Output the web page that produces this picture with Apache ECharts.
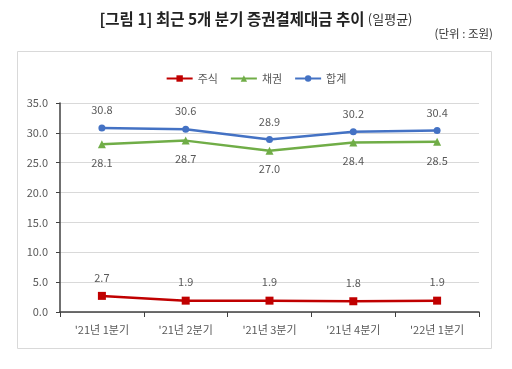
<!DOCTYPE html>
<html><head><meta charset="utf-8">
<script src="https://cdn.jsdelivr.net/npm/echarts@6/dist/echarts.min.js"></script>
<style>html,body{margin:0;padding:0;background:#fff}#c{width:512px;height:369px}</style>
</head><body><div id="c"></div>
<script>
const categories = ["'21년 1분기", "'21년 2분기", "'21년 3분기", "'21년 4분기", "'22년 1분기"];
const stocks = [2.7, 1.9, 1.9, 1.8, 1.9];
const bonds = [28.1, 28.7, 27.0, 28.4, 28.5];
const totals = [30.8, 30.6, 28.9, 30.2, 30.4];
const yTicks = { min: 0, max: 35, interval: 5 };

const font = '"Noto Sans CJK KR", "Noto Sans", sans-serif';
const chart = echarts.init(document.getElementById('c'), null, { renderer: 'canvas' });
const lbl = (pos) => ({ show: true, position: pos, distance: 9, color: '#595959', fontSize: 11, fontFamily: font, formatter: p => p.value.toFixed(1) });
chart.setOption({
  animation: false,
  graphic: [
    { type: 'rect', shape: { x: 17.5, y: 51.5, width: 474, height: 297 }, style: { fill: 'none', stroke: '#d9d9d9', lineWidth: 1 } },
    { type: 'text', left: 'center', top: 11, style: { rich: { a: { fontSize: 15.5, fontWeight: 'bold', fontFamily: font, fill: '#222' }, b: { fontSize: 13, fontFamily: font, fill: '#333' } }, text: '{a|[그림 1] 최근 5개 분기 증권결제대금 추이} {b|(일평균)}' } },
    { type: 'text', right: 19, top: 28, style: { text: '(단위 : 조원)', fontSize: 11.5, fontFamily: font, fill: '#333' } }
  ],
  legend: {
    top: 68, left: 'center', itemWidth: 26, itemHeight: 8, itemGap: 12,
    textStyle: { fontSize: 11, fontFamily: font, color: '#595959' },
    data: ['주식', '채권', '합계']
  },
  grid: { left: 60, right: 33, top: 103, bottom: 57 },
  xAxis: {
    type: 'category', data: categories, boundaryGap: true,
    axisLine: { lineStyle: { color: '#404040', width: 1.5 } },
    axisTick: { show: true, length: 5, lineStyle: { color: '#404040' } },
    axisLabel: { color: '#595959', fontSize: 11, fontFamily: font, margin: 12 }
  },
  yAxis: {
    type: 'value', min: yTicks.min, max: yTicks.max, interval: yTicks.interval,
    axisLine: { show: true, lineStyle: { color: '#404040', width: 1.5 } },
    axisTick: { show: true, length: 4, lineStyle: { color: '#404040' } },
    axisLabel: { color: '#595959', fontSize: 11, fontFamily: font, margin: 12, formatter: v => v.toFixed(1) },
    splitLine: { lineStyle: { color: '#d9d9d9', width: 1 } }
  },
  series: [
    { name: '주식', type: 'line', data: stocks, symbol: 'rect', symbolSize: 8, itemStyle: { color: '#C00000' }, lineStyle: { width: 2.5, color: '#C00000' }, label: lbl('top') },
    { name: '채권', type: 'line', data: bonds, symbol: 'triangle', symbolSize: 8, itemStyle: { color: '#70AD47' }, lineStyle: { width: 2.5, color: '#70AD47' }, label: lbl('bottom') },
    { name: '합계', type: 'line', data: totals, symbol: 'circle', symbolSize: 7, itemStyle: { color: '#4472C4' }, lineStyle: { width: 2.5, color: '#4472C4' }, label: lbl('top') }
  ]
});
</script></body></html>
